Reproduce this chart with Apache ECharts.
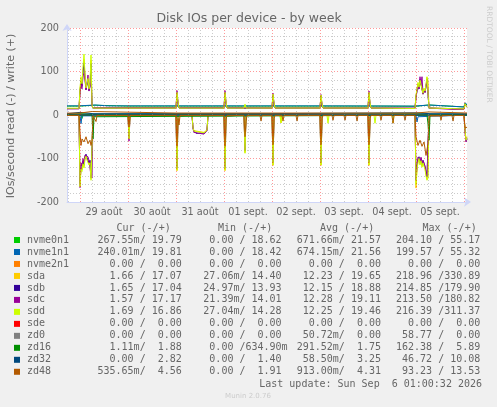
<!DOCTYPE html>
<html>
<head>
<meta charset="utf-8">
<script src="https://cdn.jsdelivr.net/npm/echarts@6/dist/echarts.min.js"></script>
<style>
  html, body { margin: 0; background: #f0f0f0; }
  #chart { width: 497px; height: 407px; }
</style>
</head>
<body>
<div id="chart"></div>
<script>
// hours counted from 29 août 00:00, one point every 30 min where needed
const devices = ["nvme0n1", "nvme1n1", "nvme2n1", "sda", "sdb", "sdc", "sdd", "sde", "zd0", "zd16", "zd32", "zd48"];
const devColors = ["#00cc00", "#0066b3", "#ff8000", "#ffcc00", "#330099", "#990099", "#ccff00", "#ff0000", "#808080", "#008f00", "#00487d", "#b35a00"];

const dayLabels = ["29 août", "30 août", "31 août", "01 sept.", "02 sept.", "03 sept.", "04 sept.", "05 sept."];
const labelHours = [12, 36, 60, 84, 108, 132, 156, 180];
const dayLineHours = [0, 24, 48, 72, 96, 120, 144, 168, 192];
const sixHourLines = [-6, 6, 12, 18, 30, 36, 42, 54, 60, 66, 78, 84, 90, 102, 108, 114, 126, 132, 138, 150, 156, 162, 174, 180, 186];

// write (+) values
const nvme0n1Write = [[-6.5,20.5],[-0.5,20.5],[0,22.5],[7.5,22.5],[8,20.5],[24,20.5],[24.5,22],[25,20.5],[48,20.5],[48.5,24],[49,20.5],[66,20.5],[66.5,23],[67,20.5],[96,20.5],[96.5,23],[97,20.5],[150,20.5],[150.5,22],[151,20.5],[167.5,20],[168,23],[174.5,23],[175,18.5],[192,18.5],[192.5,27],[193.5,23]];
const nvme1n1Write = [[-6.5,21],[-0.5,21],[0,23],[7.5,23],[8,21],[14,21],[14.5,20],[15,21],[66,21],[66.5,23],[67,21],[76,21],[76.5,22.5],[77,21],[120,21],[167.5,20.5],[168,23],[174.5,23],[175,18.5],[192,18.5],[192.5,28],[193.5,24]];
const nvme2n1Write = [[-6.5,0],[193.5,0]];
const sdaWrite = [[-6.5,15],[-0.5,15],[0,58],[0.5,80],[1,70],[1.5,100],[2,128],[2.5,90],[3,60],[3.5,64],[4,80],[4.5,58],[5,70],[5.5,126],[6,22],[6.5,16],[48,16],[48.5,50],[49,28],[49.5,16],[72,16],[72.5,50],[73,28],[73.5,16],[96,16],[96.5,46],[97,26],[97.5,16],[120,16],[120.5,44],[121,24],[121.5,16],[144,16],[144.5,50],[145,26],[145.5,16],[167.5,15],[168,44],[168.5,58],[169,72],[169.5,62],[170,78],[170.5,74],[171,58],[171.5,48],[172,60],[172.5,52],[173,68],[173.5,86],[174,80],[174.5,16],[175,14],[192,14],[192.5,25],[193.5,18]];
const sdbWrite = [[-6.5,15],[-0.5,15],[0,55],[0.5,76],[1,66],[1.5,96],[2,120],[2.5,86],[3,58],[3.5,62],[4,82],[4.5,56],[5,66],[5.5,118],[6,22],[6.5,16],[48,16],[48.5,51],[49,26],[49.5,16],[72,16],[72.5,51],[73,26],[73.5,16],[96,16],[96.5,46],[97,24],[97.5,16],[120,16],[120.5,44],[121,22],[121.5,16],[144,16],[144.5,50],[145,24],[145.5,16],[167.5,15],[168,42],[168.5,56],[169,70],[169.5,60],[170,82],[170.5,72],[171,70],[171.5,48],[172,58],[172.5,52],[173,66],[173.5,82],[174,78],[174.5,16],[175,14],[192,14],[192.5,24],[193.5,18]];
const sdcWrite = [[-6.5,14],[-0.5,14],[0,50],[0.5,70],[1,60],[1.5,90],[2,96],[2.5,80],[3,58],[3.5,60],[4,92],[4.5,55],[5,68],[5.5,85],[6,22],[6.5,17],[10,17],[10.5,18.5],[11,17],[20,17],[20.5,18],[21,16],[24,17],[24.5,18],[25,17],[34,17],[34.5,18.5],[35,17],[48,17],[48.5,56],[49,26],[49.5,17],[72,17],[72.5,56],[73,26],[73.5,17],[96,16],[96.5,50],[97,24],[97.5,16],[120,16],[120.5,47],[121,22],[121.5,16],[132,16],[132.5,13],[133,16],[144,16],[144.5,55],[145,24],[145.5,16],[167.5,16],[168,40],[168.5,55],[169,70],[169.5,60],[170,88],[170.5,70],[171,88],[171.5,48],[172,58],[172.5,52],[173,65],[173.5,80],[174,78],[174.5,16],[175,13],[186,13],[186.5,11],[187,13],[192,13],[192.5,24],[193.5,18]];
const sddWrite = [[-6.5,15.5],[-0.5,15.5],[0,62],[0.5,88],[1,72],[1.5,110],[2,140],[2.5,92],[3,62],[3.5,66],[4,84],[4.5,60],[5,72],[5.5,138],[6,23],[6.5,16],[24,16],[24.5,19],[25,16],[48,16],[48.5,52],[49,30],[49.5,16],[72,16],[72.5,52],[73,30],[73.5,16],[82,16],[82.5,25],[83,16],[96,16],[96.5,48],[97,28],[97.5,16],[120,16],[120.5,46],[121,26],[121.5,16],[144,16],[144.5,52],[145,28],[145.5,16],[167.5,15],[168,46],[168.5,60],[169,75],[169.5,64],[170,80],[170.5,78],[171,60],[171.5,50],[172,62],[172.5,55],[173,70],[173.5,88],[174,84],[174.5,16],[175,14],[192,14],[192.5,26],[193,20],[193.5,18]];
const sdeWrite = [[-6.5,0],[193.5,0]];
const zd0Write = [[-6.5,0],[193.5,0]];
const zd16Write = [[-6.5,1.8],[0,3],[6.5,1.8],[168,3],[175,1.8],[193.5,1.9]];
const zd32Write = [[-6.5,3],[0,6],[6.5,3],[96,3.2],[168,5],[175,3],[193.5,2.8]];
const zd48Write = [[-6.5,4.3],[-0.5,4.3],[0,8],[6,8],[6.5,4.5],[48,4.5],[48.5,6],[49,4.3],[96,4.5],[167.5,4.4],[168,7],[174.5,7],[175,4.4],[193.5,4.6]];

// read (-) values, drawn below zero
const nvme0n1Read = [[-6.5,0.3],[0.5,0.3],[1,8],[1.5,0.3],[193.5,0.3]];
const nvme1n1Read = [[-6.5,0.3],[0,0.3],[0.5,20],[1,2],[1.5,0.3],[168,0.3],[168.5,16],[169,4],[169.5,0.3],[193.5,0.3]];
const nvme2n1Read = [[-6.5,0],[193.5,0]];
const sdaRead = [[-6.5,0.2],[-0.5,0.2],[0,160],[0.5,120],[1,126],[1.5,108],[2,118],[2.5,98],[3,92],[3.5,100],[4,98],[4.5,112],[5,106],[5.5,146],[6,150],[6.5,1],[24,0.5],[24.5,52],[25,1],[48,0.5],[48.5,128],[49,2],[56,0.5],[56.5,29],[57,36],[57.5,39],[58,40],[62,40],[63,39],[63.5,34],[64,1],[72,0.5],[72.5,128],[73,2],[82,0.5],[82.5,86],[83,1],[96,0.5],[96.5,116],[97,1],[100,0.5],[100.5,18],[101,0.5],[120,0.5],[120.5,116],[121,1],[144,0.5],[144.5,116],[145,1],[167.5,0.5],[168,168],[168.5,120],[169,106],[169.5,98],[170,112],[170.5,102],[171,118],[171.5,106],[172,116],[172.5,122],[173,136],[173.5,148],[174,142],[174.5,2],[192,0.5],[192.5,34],[193,55],[193.5,50]];
const sdbRead = [[-6.5,0.2],[-0.5,0.2],[0,158],[0.5,118],[1,122],[1.5,106],[2,115],[2.5,96],[3,90],[3.5,98],[4,96],[4.5,110],[5,104],[5.5,144],[6,148],[6.5,1],[24,0.5],[24.5,50],[25,1],[48,0.5],[48.5,118],[49,2],[56,0.5],[56.5,30],[57,37],[57.5,41],[58,42],[62,42],[63,41],[63.5,35],[64,1],[72,0.5],[72.5,118],[73,2],[82,0.5],[82.5,82],[83,1],[96,0.5],[96.5,108],[97,1],[120,0.5],[120.5,108],[121,1],[144,0.5],[144.5,108],[145,1],[167.5,0.5],[168,150],[168.5,116],[169,102],[169.5,96],[170,108],[170.5,100],[171,114],[171.5,104],[172,112],[172.5,118],[173,130],[173.5,142],[174,138],[174.5,2],[192,0.5],[192.5,36],[193,60],[193.5,54]];
const sdcRead = [[-6.5,0.2],[-0.5,0.2],[0,167],[0.5,110],[1,118],[1.5,100],[2,110],[2.5,92],[3,88],[3.5,95],[4,96],[4.5,105],[5,104],[5.5,140],[6,145],[6.5,1],[24,0.5],[24.5,60],[25,1],[48,0.5],[48.5,122],[49,2],[56,0.5],[56.5,32],[57,40],[57.5,43],[58,44],[62,44],[63,43],[63.5,36],[64,1],[72,0.5],[72.5,122],[73,2],[82,0.5],[82.5,80],[83,1],[96,0.5],[96.5,110],[97,1],[120,0.5],[120.5,110],[121,1],[144,0.5],[144.5,110],[145,1],[167.5,0.5],[168,150],[168.5,115],[169,97],[169.5,98],[170,110],[170.5,97],[171,112],[171.5,105],[172,110],[172.5,118],[173,132],[173.5,140],[174,138],[174.5,2],[192,0.5],[192.5,38],[193,62],[193.5,55]];
const sddRead = [[-6.5,0.2],[-0.5,0.2],[0,165],[0.5,125],[1,130],[1.5,112],[2,122],[2.5,100],[3,95],[3.5,104],[4,100],[4.5,115],[5,110],[5.5,150],[6,154],[6.5,1],[24,0.5],[24.5,55],[25,1],[48,0.5],[48.5,127],[49,2],[56,0.5],[56.5,30],[57,37],[57.5,40],[58,41],[62,41],[63,40],[63.5,35],[64,1],[72,0.5],[72.5,127],[73,2],[82,0.5],[82.5,88],[83,1],[96,0.5],[96.5,115],[97,1],[100,0.5],[100.5,18],[101,0.5],[120,0.5],[120.5,115],[121,1],[123.5,0.5],[124,19],[124.5,0.5],[144,0.5],[144.5,115],[145,1],[147,0.5],[147.5,19],[148,0.5],[156,0.5],[156.5,18],[157,0.5],[167.5,0.5],[168,160],[168.5,125],[169,110],[169.5,100],[170,115],[170.5,105],[171,120],[171.5,110],[172,118],[172.5,125],[173,140],[173.5,150],[174,145],[174.5,2],[192,0.5],[192.5,35],[193,58],[193.5,52]];
const sdeRead = [[-6.5,0],[193.5,0]];
const zd0Read = [[-6.5,0.05],[193.5,0.05]];
const zd16Read = [[-6.5,0.3],[6,0.3],[6.5,55],[7,4],[7.5,0.3],[173.5,0.3],[174,20],[174.5,58],[175,1],[193.5,0.3]];
const zd32Read = [[-6.5,0.1],[193.5,0.1]];
const zd48Read = [[-6.5,0.9],[-0.5,0.9],[0,40],[0.5,70],[1,55],[2,62],[3,50],[4,66],[5,58],[5.5,70],[6,60],[6.5,2],[7.5,1],[8,15],[8.5,1],[24,1],[24.5,28],[25,1],[48,1],[48.5,72],[49,8],[49.5,23],[50,1],[72,1],[72.5,72],[73,10],[73.5,1],[82,1],[82.5,50],[83,15],[83.5,1],[90,1],[90.5,14],[91,1],[96,1],[96.5,68],[97,8],[97.5,1],[101,1],[101.5,14],[102,1],[108,1],[108.5,14],[109,1],[120,1],[120.5,68],[121,8],[121.5,1],[126,1],[126.5,12],[127,1],[132,1],[132.5,12],[133,1],[138,1],[138.5,14],[139,1],[144,1],[144.5,68],[145,8],[145.5,1],[150,1],[150.5,12],[151,1],[156,1],[156.5,19],[157,1],[162,1],[162.5,12],[163,1],[167.5,1],[168,50],[169,70],[170,58],[171,72],[172,62],[173,93],[174,66],[174.5,10],[175,1],[180,1],[180.5,12],[181,1],[186,1],[186.5,14],[187,1],[192,1],[192.5,30],[193.5,28]];

const writes = [nvme0n1Write, nvme1n1Write, nvme2n1Write, sdaWrite, sdbWrite, sdcWrite, sddWrite, sdeWrite, zd0Write, zd16Write, zd32Write, zd48Write];
const reads = [nvme0n1Read, nvme1n1Read, nvme2n1Read, sdaRead, sdbRead, sdcRead, sddRead, sdeRead, zd0Read, zd16Read, zd32Read, zd48Read];

// legend table texts
const curText = ["267.55m/ 19.79", "240.01m/ 19.81", "  0.00 /  0.00", "  1.66 / 17.07", "  1.65 / 17.04", "  1.57 / 17.17", "  1.69 / 16.86", "  0.00 /  0.00", "  0.00 /  0.00", "  1.11m/  1.88", "  0.00 /  2.82", "535.65m/  4.56"];
const minText = ["  0.00 / 18.62", "  0.00 / 18.42", "  0.00 /  0.00", " 27.06m/ 14.40", " 24.97m/ 13.93", " 21.39m/ 14.01", " 27.04m/ 14.28", "  0.00 /  0.00", "  0.00 /  0.00", "  0.00 /634.90m", "  0.00 /  1.40", "  0.00 /  1.91"];
const avgText = ["671.66m/ 21.57", "674.15m/ 21.56", "  0.00 /  0.00", " 12.23 / 19.65", " 12.15 / 18.88", " 12.28 / 19.11", " 12.25 / 19.46", "  0.00 /  0.00", " 50.72m/  0.00", "291.52m/  1.75", " 58.50m/  3.25", "913.00m/  4.31"];
const maxText = ["204.10 / 55.17", "199.57 / 55.32", "  0.00 /  0.00", "218.96 /330.89", "214.85 /179.90", "213.50 /180.82", "216.39 /311.37", "  0.00 /  0.00", " 58.77 /  0.00", "162.38 /  5.89", " 46.72 / 10.08", " 93.23 / 13.53"];
const headers = ["Cur (-/+)", "Min (-/+)", "Avg (-/+)", "Max (-/+)"];

const chart = echarts.init(document.getElementById("chart"));
const mono = '10px "DejaVu Sans Mono"';
const textColor = "#666666";

const series = [{
  // grid lines behind the data
  type: "line",
  data: [],
  silent: true,
  markLine: {
    silent: true,
    symbol: "none",
    label: { show: false },
    animation: false,
    data: sixHourLines.map(h => ({ xAxis: h, lineStyle: { color: "rgba(140,140,140,0.45)", type: [1, 2], width: 1 } }))
      .concat(dayLineHours.map(h => ({ xAxis: h, lineStyle: { color: "rgba(255,0,0,0.4)", type: [1, 2], width: 1 } })))
  }
}];
devices.forEach((d, i) => {
  series.push({
    name: d + " read",
    type: "line",
    symbol: "none",
    lineStyle: { width: 1, color: devColors[i] },
    data: reads[i].map(p => [p[0], -p[1]])
  });
  series.push({
    name: d + " write",
    type: "line",
    symbol: "none",
    lineStyle: { width: 1, color: devColors[i] },
    data: writes[i]
  });
});

const graphic = [
  { type: "text", x: 249, y: 19, style: { text: "Disk IOs per device - by week", font: '12.5px "DejaVu Sans"', fill: textColor, align: "center", verticalAlign: "middle" } },
  { type: "text", x: 11, y: 116, rotation: Math.PI / 2, style: { text: "IOs/second read (-) / write (+)", font: '11px "DejaVu Sans"', fill: textColor, align: "center", verticalAlign: "middle" } },
  { type: "text", x: 489, y: 6, rotation: -Math.PI / 2, style: { text: "RRDTOOL / TOBI OETIKER", font: '7.5px "DejaVu Sans"', fill: "#cccccc", align: "left", verticalAlign: "middle" } },
  { type: "text", x: 248, y: 396, style: { text: "Munin 2.0.76", font: '7px "DejaVu Sans"', fill: "#cccccc", align: "center", verticalAlign: "middle" } },
  { type: "text", x: 482, y: 384, style: { text: "Last update: Sun Sep  6 01:00:32 2026", font: mono, fill: textColor, align: "right", verticalAlign: "middle" } }
];
const headerX = [116.5, 218, 320, 422.5];
headers.forEach((h, k) => {
  graphic.push({ type: "text", x: headerX[k], y: 228, style: { text: h, font: mono, fill: textColor, verticalAlign: "middle" } });
});
const colX = [97.5, 197.3, 296.7, 396];
devices.forEach((d, i) => {
  const y = 240 + i * 11.98;
  graphic.push({ type: "rect", shape: { x: 14, y: y - 3, width: 6, height: 6 }, style: { fill: devColors[i] } });
  graphic.push({ type: "text", x: 27, y: y, style: { text: d, font: mono, fill: textColor, verticalAlign: "middle" } });
  [curText, minText, avgText, maxText].forEach((col, k) => {
    graphic.push({ type: "text", x: colX[k], y: y, style: { text: col[i], font: mono, fill: textColor, verticalAlign: "middle" } });
  });
});

chart.setOption({
  backgroundColor: "#f0f0f0",
  animation: false,
  grid: { left: 67, right: 30, top: 28, height: 174, show: true, backgroundColor: "#ffffff", borderWidth: 0 },
  xAxis: {
    type: "value",
    min: -6.5,
    max: 193.5,
    axisLine: { onZero: false, lineStyle: { color: "#cfd6f8" }, symbol: ["none", "arrow"], symbolSize: [7, 7], symbolOffset: [0, 4] },
    axisTick: { show: false },
    splitLine: { show: false },
    axisLabel: {
      customValues: labelHours,
      margin: 5,
      color: textColor,
      fontFamily: "DejaVu Sans",
      fontSize: 9.7,
      formatter: v => dayLabels[labelHours.indexOf(v)] || ""
    }
  },
  yAxis: {
    type: "value",
    min: -200,
    max: 200,
    interval: 100,
    axisLine: { show: true, onZero: false, lineStyle: { color: "#cfd6f8" }, symbol: ["none", "arrow"], symbolSize: [7, 7], symbolOffset: [0, 4] },
    axisTick: { show: false },
    axisLabel: { margin: 8, color: textColor, fontFamily: "DejaVu Sans", fontSize: 9.7 },
    splitLine: { lineStyle: { color: "rgba(255,0,0,0.4)", type: [1, 2] } },
    minorTick: { show: false, splitNumber: 5 },
    minorSplitLine: { show: true, lineStyle: { color: "rgba(140,140,140,0.45)", type: [1, 2] } }
  },
  graphic: graphic,
  series: series
});
</script>
</body>
</html>
